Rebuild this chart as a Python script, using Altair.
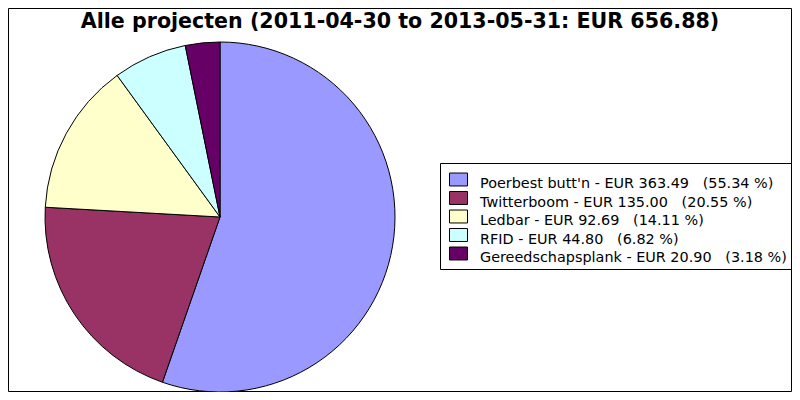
import altair as alt
import pandas as pd

projects = ["Poerbest butt'n", "Twitterboom", "Ledbar", "RFID", "Gereedschapsplank"]
amounts = [363.49, 135.00, 92.69, 44.80, 20.90]
percents = [55.34, 20.55, 14.11, 6.82, 3.18]
colors = ["#9999FF", "#993366", "#FFFFCC", "#CCFFFF", "#660066"]
title_text = "Alle projecten (2011-04-30 to 2013-05-31: EUR 656.88)"

NB = "\u00a0"
labels = [f"{p} - EUR {a:.2f}{NB*3}({c:.2f} %)" for p, a, c in zip(projects, amounts, percents)]

df = pd.DataFrame({
    "project": projects,
    "amount": amounts,
    "idx": list(range(len(projects))),
    "label": labels,
})

color_scale = alt.Scale(domain=projects, range=colors)
y_scale = alt.Scale(type="point", domain=projects, range=[180.3, 254.3], padding=0)

base = alt.Chart(df)
one = alt.Data(values=[{"a": 1}])

frame = alt.Chart(one).mark_rect(
    fill="white", stroke="black", strokeWidth=1
).encode(
    x=alt.value(0.5), x2=alt.value(783.5), y=alt.value(0.5), y2=alt.value(383.5)
)

pie = base.mark_arc(radius=175, stroke="black", strokeWidth=1).encode(
    theta=alt.Theta("amount:Q", stack=True),
    color=alt.Color("project:N", scale=color_scale, legend=None),
    order=alt.Order("idx:Q"),
    x=alt.value(212),
    y=alt.value(209),
)

box = alt.Chart(one).mark_rect(
    fill="white", stroke="black", strokeWidth=1
).encode(
    x=alt.value(432.5), x2=alt.value(783.5), y=alt.value(155.5), y2=alt.value(261.5)
)

swatch_shape = "M-1,-0.72L1,-0.72L1,0.72L-1,0.72Z"
swatches = base.mark_point(
    shape=swatch_shape, size=324, filled=True, stroke="black", strokeWidth=1,
    opacity=1, yOffset=-8.8
).encode(
    x=alt.value(450.5),
    y=alt.Y("project:N", scale=y_scale, axis=None),
    fill=alt.Fill("project:N", scale=color_scale, legend=None),
)

texts = base.mark_text(
    align="left", baseline="alphabetic", fontSize=14.4, font="DejaVu Sans",
    color="black", limit=310, ellipsis=""
).encode(
    x=alt.value(472),
    y=alt.Y("project:N", scale=y_scale, axis=None),
    text="label:N",
)

title = alt.Chart(one).mark_text(
    align="center", baseline="alphabetic", fontSize=20.6, fontWeight="bold",
    font="DejaVu Sans", color="black"
).encode(
    x=alt.value(392), y=alt.value(20.3), text=alt.value(title_text)
)

chart = alt.layer(frame, pie, box, swatches, texts, title).properties(
    width=784, height=384, padding=0, autosize=alt.AutoSizeParams(type="none"),
    background="white"
).configure_view(strokeWidth=0)

chart.save("out.html", embed_options={"renderer": "svg", "actions": False})
